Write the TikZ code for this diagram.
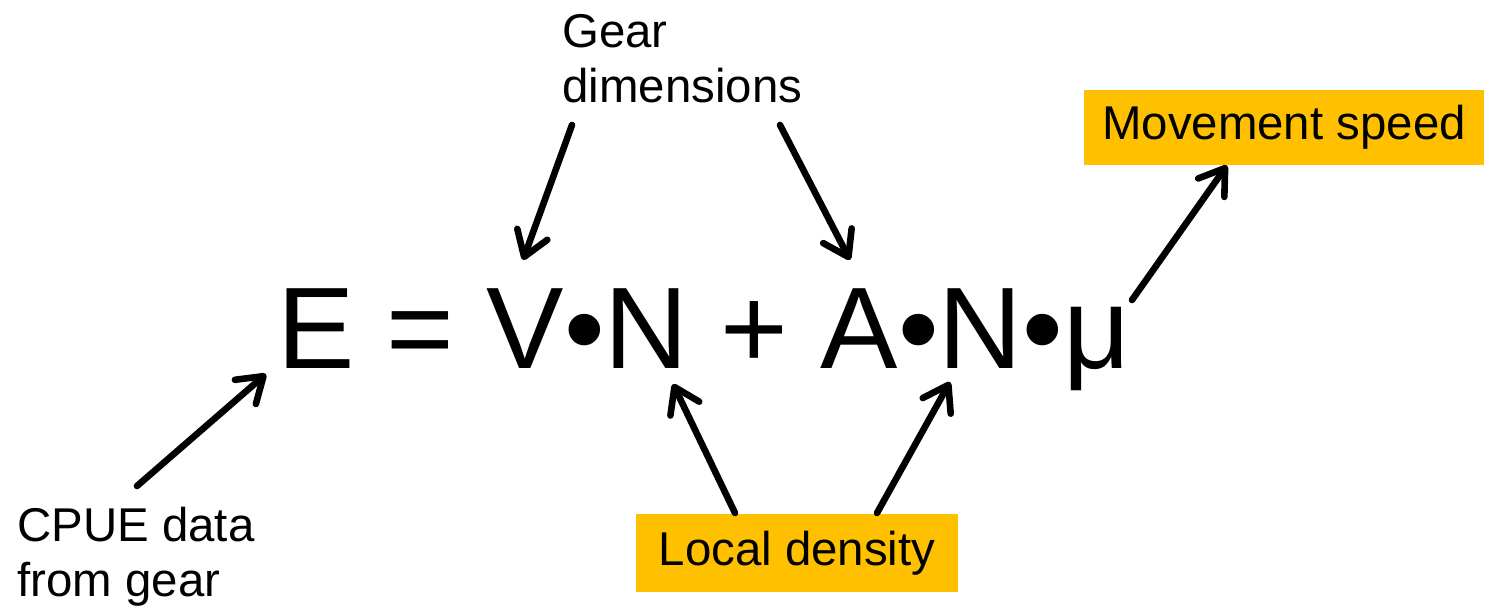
\documentclass[tikz,border=0pt]{standalone}
\usepackage{fontspec}
\setmainfont{Liberation Sans}
\usetikzlibrary{arrows.meta}
\definecolor{boxgold}{RGB}{255,192,0}
\tikzset{
  lbl/.style={inner sep=0pt,align=left,font=\fontsize{23.7}{27.3}\selectfont},
  hilite/.style={fill=boxgold,inner sep=0pt,font=\fontsize{23.7}{27.3}\selectfont},
  pointer/.style={line width=3.3pt,line cap=round,-{Straight Barb[length=12pt,width=16pt,round]}}
}

\begin{document}
\begin{tikzpicture}[x=0.5pt,y=-0.5pt]
  \useasboundingbox (0,0) rectangle (1490,613);
  \node[lbl,anchor=north west] (gear) at (562,14) {Gear\\dimensions};
  \node[hilite,minimum width=200pt,minimum height=37.5pt] (speed) at (1284,127.5) {Movement speed};
  \node[hilite,minimum width=161pt,minimum height=39pt] (dens) at (797,553) {Local density};
  \node[lbl,anchor=north west] (cpue) at (17,507) {CPUE data\\from gear};
  \node[inner sep=0pt,anchor=base west,font=\fontsize{58}{70}\selectfont] (eq) at (277,369) {E = V•N + A•N•μ};
  % arrow ends
  \coordinate (gear-l) at (572,125);
  \coordinate (gear-r) at (780,125);
  \coordinate (tip-V) at (523,260);
  \coordinate (tip-A) at (850,260);
  \coordinate (mu-top) at (1132,300);
  \coordinate (cpue-top) at (137,486);
  \coordinate (tip-E) at (266,374);
  \coordinate (dens-l) at (735,513);
  \coordinate (dens-r) at (877,513);
  \coordinate (tip-N1) at (673,384);
  \coordinate (tip-N2) at (950,382);
  \draw[pointer] (gear-l) -- (tip-V);
  \draw[pointer] (gear-r) -- (tip-A);
  \draw[pointer] (mu-top) -- (speed.south -| 1227,0);
  \draw[pointer] (cpue-top) -- (tip-E);
  \draw[pointer] (dens-l) -- (tip-N1);
  \draw[pointer] (dens-r) -- (tip-N2);
\end{tikzpicture}
\end{document}
